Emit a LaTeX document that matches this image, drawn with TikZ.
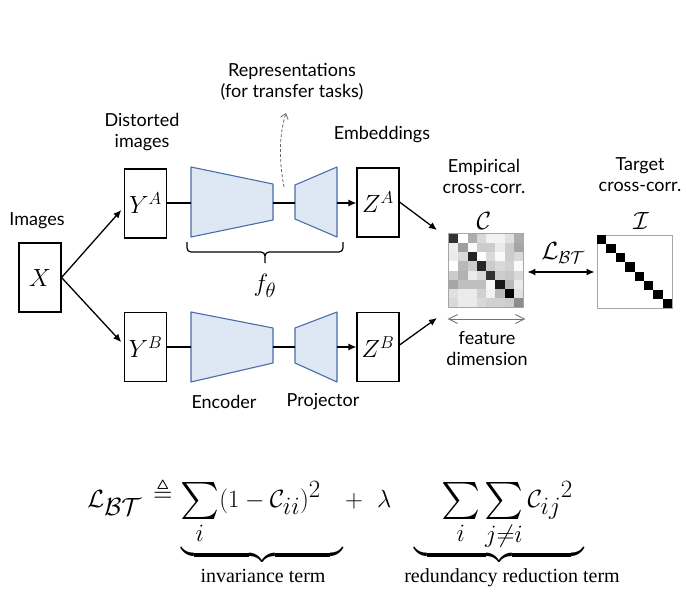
\documentclass[tikz,border=0pt]{standalone}
\usepackage{amsmath,amssymb}
\usepackage{fontspec}
\setmainfont{Lato}
\newfontfamily\eqtextfont{Liberation Serif}
\usetikzlibrary{arrows.meta}
\definecolor{encfill}{HTML}{DEE8F4}
\definecolor{encdraw}{HTML}{4A6CA8}
\begin{document}
\begin{tikzpicture}[x=1pt,y=-1pt,
  lbl/.style={font=\fontsize{18}{21}\selectfont, align=center, inner sep=0pt},
  box/.style={draw, line width=1.1pt, minimum width=42pt, minimum height=69pt, inner sep=0pt},
  netpart/.style={draw=encdraw, fill=encfill, line width=1.1pt, line join=round},
  conn/.style={line width=1.3pt},
  arr/.style={line width=1.3pt, -{Latex[length=8pt,width=7pt]}},
  matbox/.style={draw=black!35, line width=0.8pt, minimum width=74pt, minimum height=73pt, inner sep=0pt},
  eqpart/.style={anchor=base west, inner sep=0pt, font=\fontsize{37}{40}\selectfont},
  eqlabel/.style={font=\eqtextfont\fontsize{20}{22}\selectfont, inner sep=0pt}]
\useasboundingbox (0,0) rectangle (686,600);

% ---- text labels
\node[lbl] (rep) at (292,82) {Representations\\(for transfer tasks)};
\node[lbl] (dist) at (142,132) {Distorted\\images};
\node[lbl] (imgs) at (37,221) {Images};
\node[lbl] (emb) at (382,135) {Embeddings};
\node[lbl] (emp) at (484,176) {Empirical\\cross-corr.};
\node[lbl] (tgt) at (640,175) {Target\\cross-corr.};
\node[lbl] (feat) at (487,349) {feature\\dimension};
\node[lbl] (encl) at (224,402) {Encoder};
\node[lbl] (projl) at (323,402) {Projector};

% ---- boxes
\node[box] (X) at (40,277.5) {\fontsize{32}{32}\selectfont$X$};
\node[box] (YA) at (145.5,203.5) {\fontsize{26}{26}\selectfont$Y^A$};
\node[box] (YB) at (145.5,347) {\fontsize{26}{26}\selectfont$Y^B$};
\node[box] (ZA) at (378,202.5) {\fontsize{26}{26}\selectfont$Z^A$};
\node[box] (ZB) at (378,347) {\fontsize{26}{26}\selectfont$Z^B$};

% ---- encoders / projectors
\draw[netpart] (191,167) -- (273,184) -- (273,220) -- (191,237) -- cycle;
\draw[netpart] (295,185) -- (337,167) -- (337,237) -- (295,219) -- cycle;
\draw[netpart] (191,312) -- (273,328) -- (273,363) -- (191,382) -- cycle;
\draw[netpart] (295,328) -- (337,312) -- (337,382) -- (295,363) -- cycle;
\coordinate (eAl) at (191,203);
\coordinate (eAr) at (273,203);
\coordinate (pAl) at (295,203);
\coordinate (pAr) at (337,203);
\coordinate (eBl) at (191,347);
\coordinate (eBr) at (273,347);
\coordinate (pBl) at (295,347);
\coordinate (pBr) at (337,347);

% ---- connectors
\draw[arr, shorten >=4pt] (X.east) -- (YA.west|-0,207);
\draw[arr, shorten >=4pt] (X.east) -- (YB.west|-0,345);
\draw[conn] (YA.east|-eAl) -- (eAl);
\draw[conn] (eAr) -- (pAl);
\draw[arr] (pAr) -- (ZA.west|-pAr);
\draw[conn] (YB.east|-eBl) -- (eBl);
\draw[conn] (eBr) -- (pBl);
\draw[arr] (pBr) -- (ZB.west|-pBr);

% ---- representation dashed arrow
\coordinate (rep0) at (284,187);
\coordinate (rep1) at (286,113);
\draw[black!60, line width=0.8pt, dash pattern=on 3pt off 2pt, -{Straight Barb[length=5pt,width=8pt]}]
  (rep0) .. controls (279,160) and (279,135) .. (rep1);

% ---- brace f_theta
\coordinate (brL) at (187,242);
\coordinate (brR) at (343,242);
\draw[line width=1.2pt, line join=round]
  (brL) -- (187,248) arc[start angle=180,end angle=90,radius=4] -- (261,252)
  arc[start angle=270,end angle=360,radius=4] -- (265,263)
  (265,256) arc[start angle=180,end angle=270,radius=4] -- (339,252)
  arc[start angle=90,end angle=0,radius=4] -- (brR);
\node (f) at (265,286) {\fontsize{29}{29}\selectfont$f_\theta$};

% ---- matrices
\node[matbox] (C) at (486,270.5) {};
\foreach \row [count=\i from 0] in {
  {20,100,68,85,95,95,88,68},
  {93,62,98,80,80,92,80,65},
  {92,85,15,100,85,98,80,85},
  {100,72,80,15,80,85,82,98},
  {80,70,92,85,20,80,78,85},
  {65,75,75,75,97,10,72,92},
  {88,92,92,82,95,72,0,88},
  {85,92,92,85,82,82,80,55}} {
  \foreach \v [count=\j from 0] in \row {
    \fill[white!\v!black] (449+9.25*\j,234+9.125*\i) rectangle ++(9.25,9.125);
  }
}
\draw[black!35, line width=0.8pt] (C.north west) rectangle (C.south east);
\node[inner sep=0pt, anchor=south] (Ccal) at (484,230) {\fontsize{24}{24}\selectfont$\mathcal{C}$};

\node[matbox, minimum width=75pt] (I) at (634.5,271.5) {};
\foreach \k in {0,...,7} {
  \fill[black] (597+9.375*\k,235+9.125*\k) rectangle ++(9.375,9.125);
}
\node[inner sep=0pt, anchor=south] (Ical) at (641,230) {\fontsize{24}{24}\selectfont$\mathcal{I}$};

% ---- Z to C arrows
\coordinate (CinA) at (437,230);
\coordinate (CinB) at (437,318);
\draw[arr] (ZA.east|-0,202) -- (CinA);
\draw[arr] (ZB.east|-0,345) -- (CinB);

% ---- loss arrow
\draw[line width=1.3pt, {Latex[length=8pt,width=7pt]}-{Latex[length=8pt,width=7pt]}]
  ([xshift=4pt]C.east|-0,272) -- ([xshift=-2pt]I.west|-0,272);
\node (Lbt) at (563,253) {\fontsize{25}{25}\selectfont$\mathcal{L}_{\mathcal{BT}}$};

% ---- feature dimension arrow
\draw[black!55, line width=0.9pt, {Straight Barb[length=9pt,width=9pt]}-{Straight Barb[length=9pt,width=9pt]}]
  ([xshift=-1pt]C.south west|-0,319) -- ([xshift=2pt]C.south east|-0,319);

% ---- equation
\node[eqpart] (eqL) at (87,507) {$\mathcal{L}_{\mathcal{BT}}$};
\node[eqpart, font=\fontsize{25}{27}\selectfont] (eqDef) at (153,501) {$\triangleq$};
\node[eqpart] (eqInv) at (180,507) {$\sum\limits_i (1-\mathcal{C}_{ii})^2$};
\node[eqpart] (eqPlus) at (345,507) {$+$};
\node[eqpart] (eqLam) at (377,507) {$\lambda$};
\node[eqpart] (eqRed) at (441,507) {$\sum\limits_i\sum\limits_{j\neq i} {\mathcal{C}_{ij}}^2$};
\node[inner sep=0pt] (br1) at (262,555) {\fontsize{28}{30}\selectfont$\underbrace{\hspace{162pt}}$};
\node[inner sep=0pt] (br2) at (499,555) {\fontsize{28}{30}\selectfont$\underbrace{\hspace{170pt}}$};
\node[eqlabel] (inv) at (263,576) {invariance term};
\node[eqlabel] (red) at (512,578) {redundancy reduction term};
\end{tikzpicture}
\end{document}
